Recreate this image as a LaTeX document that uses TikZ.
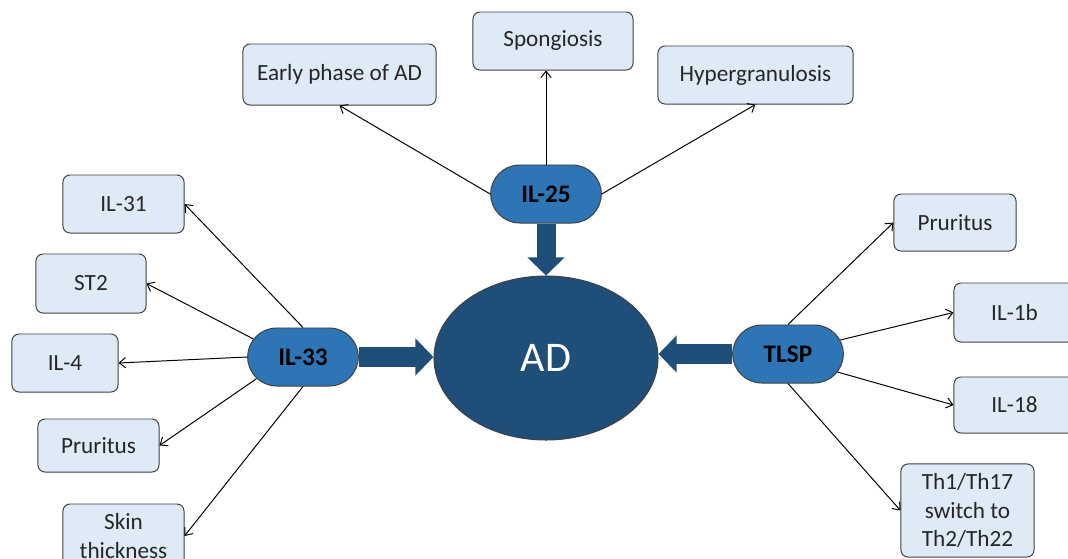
\documentclass[tikz,border=0pt]{standalone}
\usepackage{fontspec}
\setmainfont{Carlito}
\usepackage{tikz}
\usetikzlibrary{arrows.meta,positioning,shapes.geometric,shapes.misc}
\definecolor{adnavy}{RGB}{31,78,121}
\definecolor{ilblue}{RGB}{46,117,182}
\definecolor{boxblue}{RGB}{222,235,247}
\definecolor{edgegray}{RGB}{64,64,64}

\begin{document}
\begin{tikzpicture}[x=0.025cm, y=-0.025cm,
  effect/.style={draw=edgegray, fill=boxblue, rounded corners=5pt, line width=0.7pt,
    font=\fontsize{16.5}{20}\selectfont, text=black!85, align=center, inner sep=2pt},
  hub/.style={rounded rectangle, draw=edgegray, fill=ilblue, line width=0.7pt,
    font=\fontsize{18}{21}\selectfont\bfseries, minimum width=3cm, minimum height=1.45cm},
  link/.style={-{Straight Barb[length=1.6mm,width=2.6mm]}, line width=0.7pt, black},
  push/.style={-{Triangle[length=0.45cm,width=0.9cm]}, adnavy, line width=0.475cm}]
\useasboundingbox (0,0) rectangle (1068,559);
% -- Centre: AD --
\node[ellipse, draw=edgegray, fill=adnavy, line width=0.7pt, minimum width=5.6cm,
  minimum height=4.1cm, text=white, font=\fontsize{30}{34}\selectfont] (ad) at (546,358) {AD};
% -- Hubs --
\node[hub] (il25) at (546,194) {IL-25};
\node[hub] (il33) at (303,357) {IL-33};
\node[hub] (tlsp) at (788,354) {TLSP};
% -- IL-25 effects --
\node[effect, minimum width=4.825cm, minimum height=1.525cm] (early) at (339.5,74.5) {Early phase of AD};
\node[effect, minimum width=4cm, minimum height=1.45cm] (spong) at (553,41) {Spongiosis};
\node[effect, minimum width=4.875cm, minimum height=1.45cm] (hyper) at (755.5,75) {Hypergranulosis};
% -- IL-33 effects --
\node[effect, minimum width=3.025cm, minimum height=1.45cm] (il31) at (123.5,204) {IL-31};
\node[effect, minimum width=2.75cm, minimum height=1.475cm] (st2) at (91,283.5) {ST2};
\node[effect, minimum width=2.65cm, minimum height=1.45cm] (il4) at (65,363) {IL-4};
\node[effect, minimum width=3.025cm, minimum height=1.325cm] (prurl) at (98.5,445.5) {Pruritus};
\node[effect, minimum width=3.025cm, minimum height=1.6cm] (skin) at (123.5,536) {Skin\\thickness};
% -- TLSP effects --
\node[effect, minimum width=3.05cm, minimum height=1.425cm] (prurr) at (955,222.5) {Pruritus};
\node[effect, minimum width=3.025cm, minimum height=1.475cm] (il1b) at (1014.5,312.5) {IL-1b};
\node[effect, minimum width=3.025cm, minimum height=1.4cm] (il18) at (1014.5,405) {IL-18};
\node[effect, minimum width=3.325cm, minimum height=2.325cm] (thsw) at (967.5,510.5) {Th1/Th17\\switch to\\Th2/Th22};
% Thin arrows out of the hubs
\foreach \s/\t in {il25.west/early.south, il25.east/hyper.south,
  il33.north/il31.east, il33.160/st2.east, il33.west/il4.east,
  il33.205/prurl.east, il33.south/skin.east,
  tlsp.north/prurr.west, tlsp.15/il1b.west, tlsp.-20/il18.west,
  tlsp.south/thsw.west} {
  \draw[link] (\s) -- (\t);
}
\draw[link] (il25.north) -- (il25.north |- spong.south);
% Block arrows into AD
\draw[push] (il25.south) -- (ad.north);
\draw[push] (il33.east) -- (il33.east -| ad.west);
\draw[push] (tlsp.west) -- (tlsp.west -| ad.east);
\end{tikzpicture}
\end{document}
